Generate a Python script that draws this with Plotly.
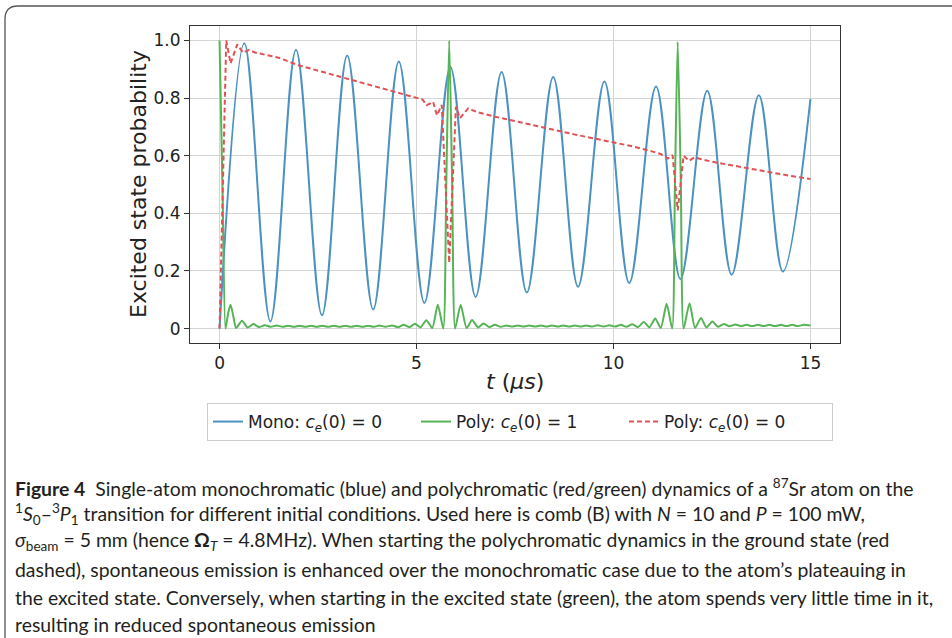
import plotly.graph_objects as go

# ---- data ----
mono_t = [0.0, 0.63, 1.29, 1.94, 2.60, 3.24, 3.90, 4.55, 5.20, 5.86, 6.50, 7.16,
          7.80, 8.47, 9.10, 9.77, 10.40, 11.08, 11.70, 12.38, 13.00, 13.69, 14.30, 15.0]
mono_p = [0.0, 0.990, 0.025, 0.968, 0.046, 0.948, 0.066, 0.927, 0.089, 0.908, 0.110, 0.890,
          0.125, 0.873, 0.145, 0.857, 0.158, 0.840, 0.172, 0.825, 0.187, 0.810, 0.198, 0.797]

polyE_t = [0.00, 0.08, 0.15, 0.22, 0.28, 0.34, 0.42, 0.57, 0.71, 0.86, 1.00, 1.15, 1.30,
           1.45, 1.60, 1.74, 1.89, 2.03, 2.18, 2.32, 2.47, 2.61, 2.76, 2.90, 3.05, 3.19,
           3.34, 3.48, 3.63, 3.77, 3.92, 4.06, 4.21, 4.38, 4.53, 4.67, 4.82, 4.96, 5.10,
           5.25, 5.40, 5.54, 5.68, 5.755, 5.83, 5.905, 5.98, 6.12, 6.27, 6.41, 6.56, 6.70,
           6.85, 6.99, 7.14, 7.28, 7.43, 7.57, 7.72, 7.86, 8.01, 8.15, 8.30, 8.44, 8.59,
           8.73, 8.88, 9.02, 9.17, 9.31, 9.46, 9.60, 9.75, 9.90, 10.04, 10.19, 10.33,
           10.48, 10.62, 10.77, 10.91, 11.06, 11.20, 11.35, 11.49, 11.56, 11.63, 11.71,
           11.78, 11.93, 12.07, 12.22, 12.36, 12.51, 12.65, 12.80, 12.94, 13.09, 13.23,
           13.38, 13.52, 13.67, 13.81, 13.96, 14.10, 14.25, 14.39, 14.54, 14.68, 14.83, 15.0]
polyE_p = [1.000, 0.450, 0.000, 0.055, 0.083, 0.050, 0.002, 0.027, 0.004, 0.016, 0.005, 0.012, 0.006,
           0.011, 0.006, 0.010, 0.006, 0.010, 0.006, 0.010, 0.006, 0.010, 0.006, 0.010, 0.006, 0.010,
           0.006, 0.010, 0.006, 0.010, 0.006, 0.011, 0.006, 0.011, 0.005, 0.013, 0.005, 0.017, 0.004,
           0.029, 0.002, 0.083, 0.000, 0.500, 1.000, 0.500, 0.000, 0.083, 0.002, 0.030, 0.004, 0.018,
           0.005, 0.013, 0.006, 0.011, 0.007, 0.011, 0.007, 0.011, 0.007, 0.011, 0.007, 0.011, 0.007,
           0.011, 0.007, 0.011, 0.007, 0.011, 0.007, 0.012, 0.007, 0.012, 0.007, 0.013, 0.006,
           0.015, 0.005, 0.023, 0.004, 0.035, 0.002, 0.086, 0.000, 0.500, 0.995, 0.500,
           0.000, 0.088, 0.002, 0.037, 0.004, 0.025, 0.006, 0.016, 0.008, 0.014, 0.009,
           0.013, 0.009, 0.013, 0.009, 0.013, 0.009, 0.013, 0.009, 0.013, 0.009, 0.013, 0.011]

polyG_t = [0.0, 0.17, 0.28, 0.45, 0.60, 0.75, 0.90, 1.0, 1.5, 2.0, 2.5, 3.0, 3.5, 4.0, 4.5,
           5.0, 5.15, 5.26, 5.42, 5.52, 5.64, 5.83, 6.0, 6.1, 6.31, 6.52, 7.0, 7.5, 8.0, 8.5,
           9.0, 9.5, 10.0, 10.5, 11.0, 11.2, 11.38, 11.5, 11.63, 11.78, 11.92, 12.05, 12.5,
           13.0, 13.5, 14.0, 14.5, 15.0]
polyG_p = [0.0, 1.0, 0.920, 0.986, 0.957, 0.967, 0.958, 0.955, 0.940, 0.914, 0.895, 0.875, 0.856, 0.838, 0.820,
           0.800, 0.795, 0.775, 0.787, 0.740, 0.776, 0.228, 0.770, 0.730, 0.764, 0.752, 0.735, 0.720, 0.704, 0.689,
           0.674, 0.660, 0.645, 0.632, 0.614, 0.606, 0.590, 0.602, 0.410, 0.600, 0.582, 0.594, 0.579,
           0.566, 0.554, 0.542, 0.530, 0.519]

x_ticks = [0, 5, 10, 15]
x_ticklabels = ["0", "5", "10", "15"]
y_ticks = [0, 0.2, 0.4, 0.6, 0.8, 1.0]
y_ticklabels = ["0", "0.2", "0.4", "0.6", "0.8", "1.0"]

caption_lines = [
    "<b>Figure 4</b>  Single-atom monochromatic (blue) and polychromatic (red/green) dynamics of a <sup>87</sup>Sr atom on the",
    "<sup>1</sup><i>S</i><sub>0</sub>–<sup>3</sup><i>P</i><sub>1</sub> transition for different initial conditions. Used here is comb (B) with <i>N</i> = 10 and <i>P</i> = 100 mW,",
    "<i>σ</i><sub>beam</sub> = 5 mm (hence <b>Ω</b><sub><i>T</i></sub> = 4.8MHz). When starting the polychromatic dynamics in the ground state (red",
    "dashed), spontaneous emission is enhanced over the monochromatic case due to the atom’s plateauing in",
    "the excited state. Conversely, when starting in the excited state (green), the atom spends very little time in it,",
    "resulting in reduced spontaneous emission",
]
caption_y_px = [487, 514, 541, 569, 597, 624]

# ---- layout geometry (pixels) ----
W, H = 952, 638
L, R, T, B = 190, 840, 26, 343


def px(xp):
    return (xp - L) / (R - L)


def py(yp):
    return (B - yp) / (B - T)


fig = go.Figure()
fig.add_trace(go.Scatter(x=mono_t, y=mono_p, mode="lines", name="Mono: <i>c</i><sub><i>e</i></sub>(0) = 0",
                         line=dict(color="#4b92c3", width=2, shape="spline", smoothing=1.0)))
fig.add_trace(go.Scatter(x=polyE_t, y=polyE_p, mode="lines", name="Poly: <i>c</i><sub><i>e</i></sub>(0) = 1",
                         line=dict(color="#56b356", width=2, shape="spline", smoothing=0.6)))
fig.add_trace(go.Scatter(x=polyG_t, y=polyG_p, mode="lines", name="Poly: <i>c</i><sub><i>e</i></sub>(0) = 0",
                         line=dict(color="#e05254", width=2, dash="5px,3px")))

axis_common = dict(showline=True, mirror=True, linecolor="#333333", linewidth=1,
                   ticks="outside", ticklen=5, tickcolor="#333333",
                   showgrid=True, gridcolor="#d4d4d4", gridwidth=1, zeroline=False,
                   tickfont=dict(family="DejaVu Sans", size=17, color="#222222"))

fig.update_layout(
    width=W, height=H,
    margin=dict(l=L, r=W - R, t=T, b=H - B, autoexpand=False),
    paper_bgcolor="white", plot_bgcolor="white",
    xaxis=dict(range=[-0.75, 15.75], tickvals=x_ticks, ticktext=x_ticklabels, **axis_common),
    yaxis=dict(range=[-0.05, 1.05], tickvals=y_ticks, ticktext=y_ticklabels, **axis_common),
    showlegend=True,
    legend=dict(orientation="h", x=px(207), xanchor="left", y=py(403), yanchor="top",
                bordercolor="#cccccc", borderwidth=1, bgcolor="white",
                font=dict(family="DejaVu Sans", size=17, color="#222222"),
                entrywidth=163, entrywidthmode="pixels", tracegroupgap=0),
)

annotations = [
    dict(text="Excited state probability", x=px(138), y=py(184), xref="paper", yref="paper",
         showarrow=False, textangle=-90, font=dict(family="DejaVu Sans", size=22, color="#222222"),
         xanchor="center", yanchor="middle"),
    dict(text="<i>t</i> (<i>μs</i>)", x=px(515), y=py(382), xref="paper", yref="paper",
         showarrow=False, font=dict(family="DejaVu Sans", size=22, color="#222222"),
         xanchor="center", yanchor="middle"),
]
for line, ypx in zip(caption_lines, caption_y_px):
    annotations.append(dict(text=line, x=px(13), y=py(ypx), xref="paper", yref="paper",
                            showarrow=False, xanchor="left", yanchor="middle", align="left",
                            font=dict(family="Lato", size=19.4, color="#231f20")))
fig.update_layout(annotations=annotations)

# rounded outer frame of the figure panel
x0, x1, xr = px(5), px(18), px(970)
y0, y1, yb = py(6), py(19), py(660)
fig.add_shape(type="path", xref="paper", yref="paper",
              path=f"M {x0},{yb} L {x0},{y1} Q {x0},{y0} {x1},{y0} L {xr},{y0}",
              line=dict(color="#555555", width=1.3))

fig.write_html("out.html")
